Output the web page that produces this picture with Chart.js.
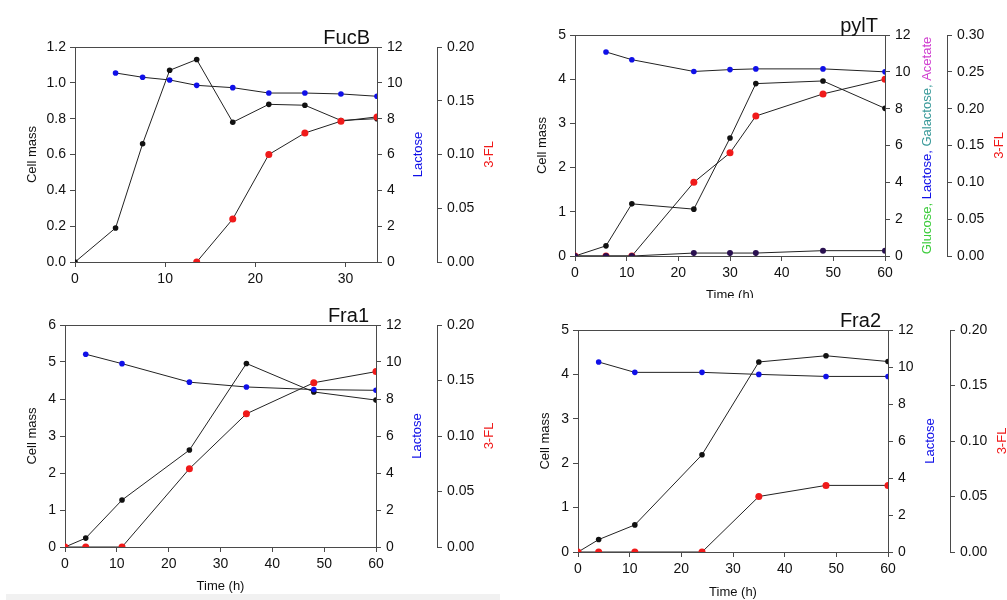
<!DOCTYPE html>
<html>
<head>
<meta charset="utf-8">
<script src="https://cdn.jsdelivr.net/npm/chart.js@4"></script>
<style>
  body { margin: 0; background: #fff; }
  canvas { position: absolute; background: #fff; }
  #band { position: absolute; left: 6px; top: 594px; width: 494px; height: 6px; background: #f1f1f1; }
</style>
</head>
<body>
<canvas id="fucb" width="500" height="300" style="left:0;top:0"></canvas>
<canvas id="pylt" width="507" height="298" style="left:500px;top:0"></canvas>
<canvas id="fra1" width="500" height="300" style="left:0;top:300px"></canvas>
<canvas id="fra2" width="507" height="300" style="left:500px;top:300px"></canvas>
<div id="band"></div>
<script>
const fucbTime = [0, 4.5, 7.5, 10.5, 13.5, 17.5, 21.5, 25.5, 29.5, 33.5]
const fucbCellMass = [0, 0.19, 0.66, 1.07, 1.13, 0.78, 0.88, 0.875, 0.79, 0.80]
const fucbLactose = [null, 10.55, 10.31, 10.16, 9.86, 9.73, 9.43, 9.43, 9.38, 9.25]
const fucbFL = [null, null, null, null, 0, 0.040, 0.100, 0.120, 0.131, 0.135]

const pyltTime = [0, 6, 11, 23, 30, 35, 48, 60]
const pyltCellMass = [0, 0.23, 1.18, 1.06, 2.67, 3.90, 3.96, 3.34]
const pyltLactose = [null, 11.08, 10.66, 10.02, 10.12, 10.16, 10.16, 10.0]
const pyltOthers = [0, 0, 0, 0.16, 0.16, 0.16, 0.29, 0.29]
const pyltFL = [0, 0, 0, 0.100, 0.140, 0.190, 0.220, 0.240]

const fra1Time = [0, 4, 11, 24, 35, 48, 60]
const fra1CellMass = [0, 0.24, 1.27, 2.62, 4.96, 4.19, 3.97]
const fra1Lactose = [null, 10.42, 9.91, 8.91, 8.65, 8.51, 8.47]
const fra1FL = [0, 0, 0, 0.0705, 0.120, 0.148, 0.158]

const fra2Time = [0, 4, 11, 24, 35, 48, 60]
const fra2CellMass = [0, 0.28, 0.61, 2.19, 4.28, 4.42, 4.29]
const fra2Lactose = [null, 10.27, 9.71, 9.71, 9.60, 9.49, 9.49]
const fra2FL = [0, 0, 0, 0, 0.050, 0.060, 0.060]

/* Axis ranges: [max, step] */
const xRangeFucb = [33.5, 10]
const xRangeLong = [60, 10]
const cellMassFucb = [1.2, 0.2]
const cellMassPylt = [5, 1]
const cellMassFra1 = [6, 1]
const cellMassFra2 = [5, 1]
const lactoseRange = [12, 2]
const flRangePylt = [0.30, 0.05]
const flRange = [0.20, 0.05]

const FONT = "'Liberation Sans', Arial, sans-serif"
const AXIS = "#4a4a4a"
const BLUE = "#1010e8"
const RED = "#f01a1a"

const toPoints = (times, values) =>
  times.map((t, i) => ({ x: t, y: values[i] })).filter(p => p.y !== null)

/* Draws top frame line, panel title and the rotated right-hand axis titles. */
const panelText = {
  id: "panelText",
  afterDraw(chart, args, opts) {
    const ctx = chart.ctx
    const area = chart.chartArea
    ctx.save()
    ctx.strokeStyle = AXIS
    ctx.lineWidth = 1
    ctx.beginPath()
    ctx.moveTo(area.left, Math.round(area.top) + 0.5)
    ctx.lineTo(area.right, Math.round(area.top) + 0.5)
    ctx.stroke()

    ctx.fillStyle = "#111"
    ctx.font = "20px " + FONT
    ctx.textAlign = "right"
    ctx.textBaseline = "alphabetic"
    ctx.fillText(opts.title, area.right - 7, area.top - 3)

    const cy = (area.top + area.bottom) / 2
    ctx.font = "13px " + FONT
    ctx.textAlign = "left"
    ctx.textBaseline = "middle"
    opts.labels.forEach(label => {
      const total = label.parts.reduce((s, p) => s + ctx.measureText(p[0]).width, 0)
      ctx.save()
      ctx.translate(label.x, cy)
      ctx.rotate(-Math.PI / 2)
      let pos = -total / 2
      label.parts.forEach(([text, color]) => {
        ctx.fillStyle = color
        ctx.fillText(text, pos, 0)
        pos += ctx.measureText(text).width
      })
      ctx.restore()
    })
    ctx.restore()
  }
}

const lineSet = (data, axis, color, radius) => ({
  data,
  yAxisID: axis,
  borderColor: "#222",
  borderWidth: 1,
  pointRadius: radius,
  pointBackgroundColor: color,
  pointBorderColor: color,
  pointBorderWidth: 0,
  tension: 0
})

const yScale = (position, range, width, fmt, title) => ({
  type: "linear",
  position,
  min: 0,
  max: range[0],
  grid: { drawOnChartArea: false, tickLength: 5, tickColor: AXIS },
  border: { display: true, color: AXIS, width: 1 },
  ticks: {
    stepSize: range[1],
    padding: position === "left" ? 4 : 5,
    color: "#111",
    font: { family: FONT, size: 14 },
    callback: v => v.toFixed(fmt)
  },
  title: title || { display: false },
  afterFit: s => { s.width = width }
})

/* Builds one of the four panels. */
const makePanel = (id, p) => {
  const canvas = document.getElementById(id)
  const W = canvas.width
  const H = canvas.height
  const a = p.area

  new Chart(canvas.getContext("2d"), {
    type: "line",
    data: { datasets: p.datasets },
    plugins: [panelText],
    options: {
      responsive: false,
      animation: false,
      layout: { padding: { left: 0, right: 0, top: a.top, bottom: 0 } },
      plugins: {
        legend: { display: false },
        tooltip: { enabled: false },
        panelText: { title: p.title, labels: p.labels }
      },
      scales: {
        x: {
          type: "linear",
          min: 0,
          max: p.xRange[0],
          grid: { drawOnChartArea: false, tickLength: 5, tickColor: AXIS },
          border: { display: true, color: AXIS, width: 1 },
          ticks: {
            stepSize: p.xRange[1],
            includeBounds: false,
            padding: 4,
            color: "#111",
            font: { family: FONT, size: 14 },
            maxRotation: 0
          },
          title: p.timeTitle === null ? { display: false } : {
            display: true,
            text: "Time (h)",
            color: "#111",
            font: { family: FONT, size: 13 },
            padding: { top: 0, bottom: H - p.timeTitle - 7.8 }
          },
          afterFit: s => { s.height = H - a.bottom }
        },
        y: yScale("left", p.cellRange, a.left, p.cellFmt, {
          display: true,
          text: "Cell mass",
          color: "#111",
          font: { family: FONT, size: 13 },
          padding: { top: p.cellTitle - 7.8, bottom: 0 }
        }),
        y1: yScale("right", lactoseRange, a.axis3 - a.right, 0),
        y2: yScale("right", p.flRange, W - a.axis3, 2)
      }
    }
  })
}

makePanel("fucb", {
  title: "FucB",
  area: { left: 75, right: 377, top: 47, bottom: 262, axis3: 437 },
  xRange: xRangeFucb,
  cellRange: cellMassFucb,
  cellFmt: 1,
  flRange: flRange,
  cellTitle: 32,
  timeTitle: null,
  labels: [
    { x: 418, parts: [["Lactose", BLUE]] },
    { x: 489, parts: [["3-FL", RED]] }
  ],
  datasets: [
    lineSet(toPoints(fucbTime, fucbFL), "y2", RED, 3.5),
    lineSet(toPoints(fucbTime, fucbLactose), "y1", BLUE, 2.8),
    lineSet(toPoints(fucbTime, fucbCellMass), "y", "#111", 2.8)
  ]
})

makePanel("pylt", {
  title: "pylT",
  area: { left: 75, right: 385, top: 35, bottom: 256, axis3: 447 },
  xRange: xRangeLong,
  cellRange: cellMassPylt,
  cellFmt: 0,
  flRange: flRangePylt,
  cellTitle: 42,
  timeTitle: 295.5,
  labels: [
    { x: 427, parts: [["Glucose, ", "#3ccc3c"], ["Lactose, ", BLUE], ["Galactose, ", "#3a9a9a"], ["Acetate", "#d040d0"]] },
    { x: 499, parts: [["3-FL", RED]] }
  ],
  datasets: [
    lineSet(toPoints(pyltTime, pyltOthers), "y1", "#2a1050", 3),
    lineSet(toPoints(pyltTime, pyltFL), "y2", RED, 3.5),
    lineSet(toPoints(pyltTime, pyltLactose), "y1", BLUE, 2.8),
    lineSet(toPoints(pyltTime, pyltCellMass), "y", "#111", 2.8)
  ]
})

makePanel("fra1", {
  title: "Fra1",
  area: { left: 65, right: 376, top: 25, bottom: 247, axis3: 437 },
  xRange: xRangeLong,
  cellRange: cellMassFra1,
  cellFmt: 0,
  flRange: flRange,
  cellTitle: 32,
  timeTitle: 286,
  labels: [
    { x: 417, parts: [["Lactose", BLUE]] },
    { x: 489, parts: [["3-FL", RED]] }
  ],
  datasets: [
    lineSet(toPoints(fra1Time, fra1FL), "y2", RED, 3.5),
    lineSet(toPoints(fra1Time, fra1Lactose), "y1", BLUE, 2.8),
    lineSet(toPoints(fra1Time, fra1CellMass), "y", "#111", 2.8)
  ]
})

makePanel("fra2", {
  title: "Fra2",
  area: { left: 78, right: 388, top: 30, bottom: 252, axis3: 450 },
  xRange: xRangeLong,
  cellRange: cellMassFra2,
  cellFmt: 0,
  flRange: flRange,
  cellTitle: 45,
  timeTitle: 292,
  labels: [
    { x: 430, parts: [["Lactose", BLUE]] },
    { x: 502, parts: [["3-FL", RED]] }
  ],
  datasets: [
    lineSet(toPoints(fra2Time, fra2FL), "y2", RED, 3.5),
    lineSet(toPoints(fra2Time, fra2Lactose), "y1", BLUE, 2.8),
    lineSet(toPoints(fra2Time, fra2CellMass), "y", "#111", 2.8)
  ]
})
</script>
</body>
</html>
